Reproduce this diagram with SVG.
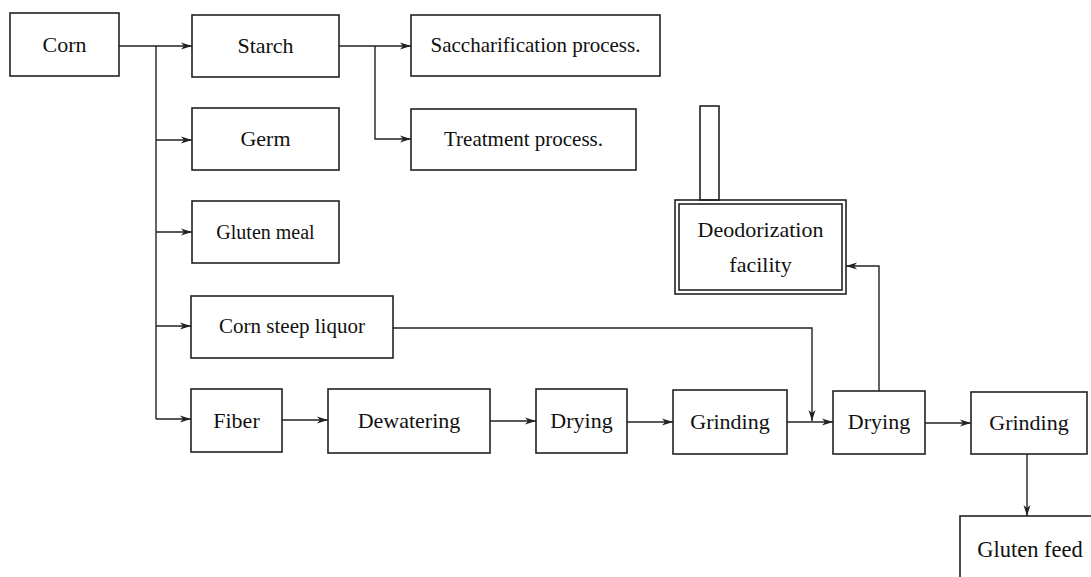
<svg xmlns="http://www.w3.org/2000/svg" width="1091" height="577" viewBox="0 0 1091 577">
<style>
.b{fill:none;stroke:#222;stroke-width:1.6}
.c{fill:none;stroke:#222;stroke-width:1.4}
text{font-family:"Liberation Serif","Times New Roman",serif;font-size:21px;fill:#111;text-anchor:middle}
</style>
<defs>
<marker id="a" markerWidth="12" markerHeight="8" refX="11" refY="4" orient="auto" markerUnits="userSpaceOnUse">
<path d="M0,0.5 L11,4 L0,7.5 L3,4 z" fill="#222"/>
</marker>
</defs>
<rect width="1091" height="577" fill="#fff"/>
<g id="corn"><rect class="b" x="10" y="13" width="109" height="63"/><text x="64.5" y="52" style="font-size:22px">Corn</text></g>
<g id="starch"><rect class="b" x="192" y="15" width="147" height="62"/><text x="265.5" y="53" style="font-size:22px">Starch</text></g>
<g id="germ"><rect class="b" x="192" y="108" width="147" height="62"/><text x="265.5" y="146" style="font-size:22px">Germ</text></g>
<g id="gluten-meal"><rect class="b" x="192" y="201" width="147" height="62"/><text x="265.5" y="239" style="font-size:20px">Gluten meal</text></g>
<g id="corn-steep"><rect class="b" x="191" y="296" width="202" height="62"/><text x="292" y="333">Corn steep liquor</text></g>
<g id="sacch"><rect class="b" x="411" y="15" width="249" height="61"/><text x="535.5" y="52">Saccharification process.</text></g>
<g id="treatment"><rect class="b" x="411" y="109" width="225" height="61"/><text x="523.5" y="146">Treatment process.</text></g>
<g id="deodor">
<rect class="b" x="700" y="106" width="19" height="94"/>
<rect class="b" x="675" y="200" width="171" height="94"/>
<rect class="b" x="679" y="204" width="163" height="86"/>
<text x="760.5" y="237" style="font-size:22px">Deodorization</text><text x="760.5" y="272" style="font-size:22px">facility</text>
</g>
<g id="fiber"><rect class="b" x="191" y="389" width="91" height="63"/><text x="236.5" y="428" style="font-size:22px">Fiber</text></g>
<g id="dewatering"><rect class="b" x="328" y="389" width="162" height="64"/><text x="409" y="428" style="font-size:22px">Dewatering</text></g>
<g id="drying1"><rect class="b" x="536" y="389" width="91" height="64"/><text x="581.5" y="428" style="font-size:22px">Drying</text></g>
<g id="grinding1"><rect class="b" x="673" y="390" width="114" height="64"/><text x="730" y="429" style="font-size:22px">Grinding</text></g>
<g id="drying2"><rect class="b" x="833" y="391" width="92" height="63"/><text x="879" y="429" style="font-size:22px">Drying</text></g>
<g id="grinding2"><rect class="b" x="971" y="392" width="116" height="62"/><text x="1029" y="430" style="font-size:22px">Grinding</text></g>
<g id="gluten-feed"><rect class="b" x="960" y="516" width="140" height="70"/><text x="1030" y="557" style="font-size:22.5px">Gluten feed</text></g>
<g id="connectors">
<path class="c" d="M119,46 H192" marker-end="url(#a)"/>
<path class="c" d="M156,46 V419"/>
<path class="c" d="M156,140 H192" marker-end="url(#a)"/>
<path class="c" d="M156,232 H192" marker-end="url(#a)"/>
<path class="c" d="M156,326 H191" marker-end="url(#a)"/>
<path class="c" d="M156,419 H191" marker-end="url(#a)"/>
<path class="c" d="M339,46 H411" marker-end="url(#a)"/>
<path class="c" d="M375,46 V139 H411" marker-end="url(#a)"/>
<path class="c" d="M282,420 H328" marker-end="url(#a)"/>
<path class="c" d="M490,421 H536" marker-end="url(#a)"/>
<path class="c" d="M627,422 H673" marker-end="url(#a)"/>
<path class="c" d="M787,422 H833" marker-end="url(#a)"/>
<path class="c" d="M393,328 H812 V421" marker-end="url(#a)"/>
<path class="c" d="M925,423 H971" marker-end="url(#a)"/>
<path class="c" d="M879,391 V266 H846" marker-end="url(#a)"/>
<path class="c" d="M1027,454 V516" marker-end="url(#a)"/>
</g>
</svg>
